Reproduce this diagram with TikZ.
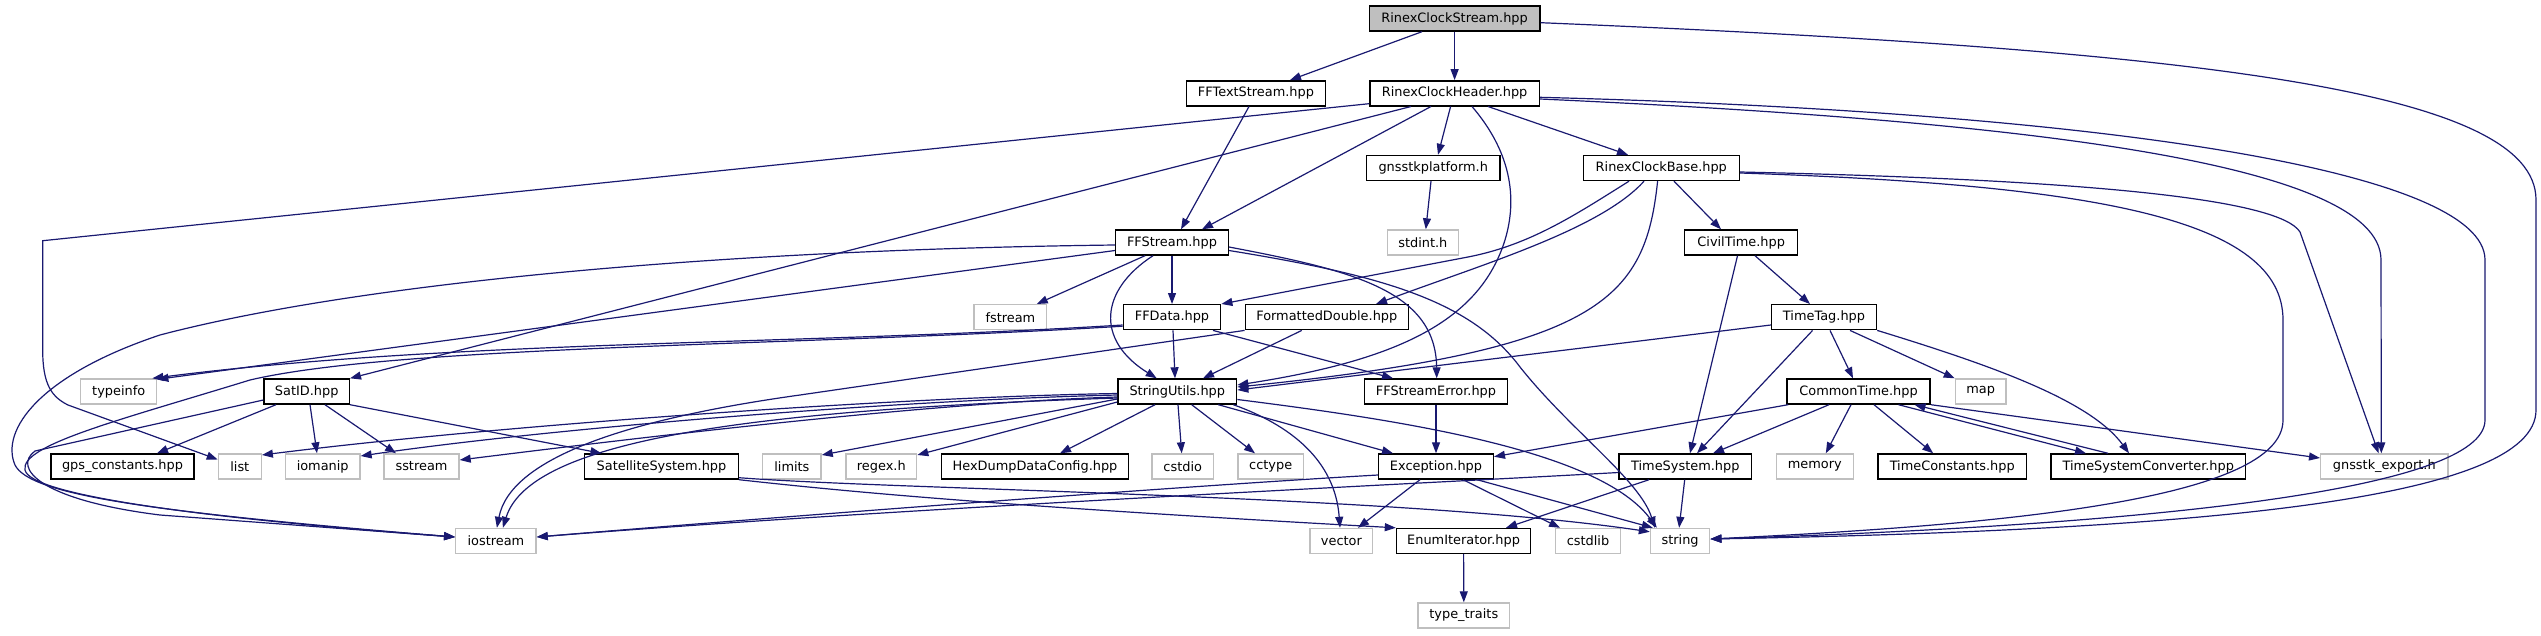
\documentclass[tikz,border=0pt]{standalone}
\usepackage{fontspec}
\setmainfont{DejaVu Sans}
\usetikzlibrary{arrows.meta}
\definecolor{edgeblue}{HTML}{191970}
\definecolor{extgray}{HTML}{BFBFBF}
\begin{document}
\begin{tikzpicture}[x=1pt,y=-1pt,
  box/.style={rectangle, minimum height=25pt, inner sep=0pt, font=\fontsize{12.9}{14}\selectfont, line width=1.4pt},
  doc/.style={box, draw=black, fill=white},
  ext/.style={box, draw=extgray, fill=white},
  root/.style={box, draw=black, fill=extgray},
  edge/.style={draw=edgeblue, line width=1.2pt, -{Triangle[length=11pt,width=8pt]}}]
\useasboundingbox (0,0) rectangle (2541,635);
% row 1
\node[root, minimum width=170.8pt] (rcs) at (1454.6,18.5) {RinexClockStream.hpp};
% row 2
\node[doc, minimum width=138.7pt] (fft) at (1256,93.3) {FFTextStream.hpp};
\node[doc, minimum width=169.6pt] (rch) at (1454.6,93.3) {RinexClockHeader.hpp};
% row 3
\node[doc, minimum width=133.4pt] (gpl) at (1433.2,168) {gnsstkplatform.h};
\node[doc, minimum width=156pt] (rcb) at (1661.3,168) {RinexClockBase.hpp};
% row 4
\node[doc, minimum width=112.6pt] (ffs) at (1172,242.5) {FFStream.hpp};
\node[ext, minimum width=71pt] (stdint) at (1422.8,242.5) {stdint.h};
\node[doc, minimum width=113pt] (civ) at (1741.2,242.5) {CivilTime.hpp};
% row 5
\node[ext, minimum width=72.6pt] (fstream) at (1010.4,317.2) {fstream};
\node[doc, minimum width=97.4pt] (ffd) at (1172,317.2) {FFData.hpp};
\node[doc, minimum width=163pt] (fmd) at (1326.8,317.2) {FormattedDouble.hpp};
\node[doc, minimum width=105pt] (ttag) at (1824,317.2) {TimeTag.hpp};
% row 6
\node[ext, minimum width=76pt] (typeinfo) at (118.7,391.5) {typeinfo};
\node[doc, minimum width=85.3pt] (satid) at (306.7,391.5) {SatID.hpp};
\node[doc, minimum width=118.7pt] (su) at (1177.3,391.5) {StringUtils.hpp};
\node[doc, minimum width=142.6pt] (ffse) at (1436,391.5) {FFStreamError.hpp};
\node[doc, minimum width=143.3pt] (ct) at (1858.5,391.5) {CommonTime.hpp};
\node[ext, minimum width=50.4pt] (map) at (1980.6,391.5) {map};
% row 7
\node[doc, minimum width=143pt] (gpsc) at (122.5,466.5) {gps\_constants.hpp};
\node[ext, minimum width=42.8pt] (list) at (239.8,466.5) {list};
\node[ext, minimum width=74.5pt] (iomanip) at (322.7,466.5) {iomanip};
\node[ext, minimum width=75pt] (sstream) at (421.5,466.5) {sstream};
\node[doc, minimum width=153.6pt] (satsys) at (661.5,466.5) {SatelliteSystem.hpp};
\node[ext, minimum width=58.3pt] (limits) at (791.9,466.5) {limits};
\node[ext, minimum width=70.7pt] (regex) at (881.3,466.5) {regex.h};
\node[doc, minimum width=186.7pt] (hex) at (1035,466.5) {HexDumpDataConfig.hpp};
\node[ext, minimum width=61.3pt] (cstdio) at (1182.7,466.5) {cstdio};
\node[ext, minimum width=65.3pt] (cctype) at (1270.7,466.5) {cctype};
\node[doc, minimum width=114.6pt] (exc) at (1436,466.5) {Exception.hpp};
\node[doc, minimum width=132.4pt] (tsys) at (1685.3,466.5) {TimeSystem.hpp};
\node[ext, minimum width=77.2pt] (memory) at (1814.8,466.5) {memory};
\node[doc, minimum width=148.1pt] (tcon) at (1952.2,466.5) {TimeConstants.hpp};
\node[doc, minimum width=194.7pt] (tsc) at (2148.3,466.5) {TimeSystemConverter.hpp};
\node[ext, minimum width=127.2pt] (gexp) at (2384.3,466.5) {gnsstk\_export.h};
% row 8
\node[ext, minimum width=80.3pt] (iostream) at (495.9,541) {iostream};
\node[ext, minimum width=62.7pt] (vector) at (1341.4,541) {vector};
\node[doc, minimum width=134.2pt] (enum) at (1463.6,541) {EnumIterator.hpp};
\node[ext, minimum width=64.5pt] (cstdlib) at (1588,541) {cstdlib};
\node[ext, minimum width=59.2pt] (string) at (1680.1,541) {string};
% row 9
\node[ext, minimum width=91.6pt] (ttraits) at (1463.8,615.5) {type\_traits};

% ---- edges ----
% RinexClockStream
\draw[edge] ([xshift=-32.6pt]rcs.south) -- ([xshift=34pt]fft.north);
\draw[edge] (rcs.south) -- (rch.north);
\draw[edge] ([yshift=-4.2pt]rcs.east) .. controls (2200,50) and (2536,90) .. (2536,200) -- (2536,410) .. controls (2536,500) and (2200,530) .. ([yshift=2pt]string.east);
% RinexClockHeader
\draw[edge] ([yshift=-10.4pt]rch.west) -- (42.7,240.7) -- (42.7,350) .. controls (42.7,385) and (52,397) .. (68,405) -- ([yshift=7pt]list.west);
\draw[edge] ([xshift=-43.6pt]rch.south) -- (satid.north east);
\draw[edge] ([xshift=-23.6pt]rch.south) -- ([xshift=30pt]ffs.north);
\draw[edge] ([xshift=-4pt]rch.south) -- ([xshift=4.8pt]gpl.north);
\draw[edge] ([xshift=17.4pt]rch.south) .. controls (1505,145) and (1520,190) .. (1505,240) .. controls (1480,320) and (1400,360) .. ([yshift=6.5pt]su.east);
\draw[edge] ([xshift=33.4pt]rch.south) -- ([xshift=-33.3pt]rcb.north);
\draw[edge] ([yshift=-5.7pt]rch.east) .. controls (2000,120) and (2381,160) .. (2381,260) -- ([xshift=-3pt]gexp.north);
\draw[edge] ([yshift=-4pt]rch.east) .. controls (2100,112) and (2485,170) .. (2485,260) -- (2485,420) .. controls (2485,490) and (2150,525) .. ([yshift=2pt]string.east);
% FFTextStream, gnsstkplatform
\draw[edge] ([xshift=-7pt]fft.south) -- ([xshift=9pt]ffs.north);
\draw[edge] ([xshift=-2.2pt]gpl.south) -- ([xshift=3pt]stdint.north);
% RinexClockBase
\draw[edge] ([xshift=-32.3pt]rcb.south) .. controls (1575,215) and (1530,245) .. (1468,257) -- (ffd.north east);
\draw[edge] ([xshift=-17.3pt]rcb.south) .. controls (1600,230) and (1480,265) .. ([xshift=49.2pt]fmd.north);
\draw[edge] ([xshift=-3.7pt]rcb.south) .. controls (1645,300) and (1600,350) .. ([yshift=4.5pt]su.east);
\draw[edge] ([xshift=12.7pt]rcb.south) -- ([xshift=-20.2pt]civ.north);
\draw[edge] ([yshift=-4pt]rcb.east) .. controls (2100,180) and (2280,200) .. (2300,232) -- ([xshift=-5.7pt]gexp.north);
\draw[edge] ([yshift=-5pt]rcb.east) .. controls (2100,185) and (2283,220) .. (2283,320) -- (2283,420) .. controls (2283,500) and (2000,525) .. ([yshift=2pt]string.east);
% CivilTime
\draw[edge] ([xshift=13.8pt]civ.south) -- ([xshift=-14pt]ttag.north);
\draw[edge] ([xshift=-3.7pt]civ.south) -- ([xshift=4.7pt]tsys.north);
% TimeTag
\draw[edge] ([yshift=-7.8pt]ttag.west) -- ([yshift=1.5pt]su.east);
\draw[edge] ([xshift=-11.4pt]ttag.south) -- ([xshift=11.7pt]tsys.north);
\draw[edge] ([xshift=6pt]ttag.south) -- ([xshift=-5.5pt]ct.north);
\draw[edge] ([xshift=26pt]ttag.south) -- (map.north west);
\draw[edge] (ttag.south east) .. controls (1990,365) and (2090,400) .. ([xshift=-19.3pt]tsc.north);
% CommonTime
\draw[edge] ([xshift=2pt]ct.south west) -- ([yshift=9.8pt]exc.east);
\draw[edge] ([xshift=-29.5pt]ct.south) -- ([xshift=27.7pt]tsys.north);
\draw[edge] ([xshift=-7.5pt]ct.south) -- ([xshift=11pt]memory.north);
\draw[edge] ([xshift=15.5pt]ct.south) -- ([xshift=-19pt]tcon.north);
\draw[edge] ([xshift=40pt]ct.south) -- ([xshift=-62.3pt]tsc.north);
\draw[edge] ([xshift=-40.3pt]tsc.north) -- ([xshift=56pt]ct.south);
\draw[edge] (ct.south east) -- ([yshift=8.5pt]gexp.west);
% FFStream
\draw[edge] ([yshift=-8pt]ffs.west) -- ([yshift=-1pt]typeinfo.north east);
\draw[edge] ([yshift=-2.5pt]ffs.west) .. controls (700,250) and (350,285) .. (160,335) .. controls (40,375) and (0,430) .. (15,465) .. controls (30,495) and (150,512) .. ([yshift=4pt]iostream.west);
\draw[edge] ([xshift=-27pt]ffs.south) -- ([xshift=26.3pt]fstream.north);
\draw[edge] (ffs.south) -- (ffd.north);
\draw[edge] ([xshift=-19pt]ffs.south) .. controls (1100,290) and (1095,340) .. ([xshift=-20.6pt]su.north);
\draw[edge] ([yshift=-4.5pt]ffs.east) .. controls (1350,270) and (1436,290) .. ([xshift=0.7pt]ffse.north);
\draw[edge] ([yshift=-8pt]ffs.east) .. controls (1380,275) and (1470,300) .. (1520,367) .. controls (1570,430) and (1640,480) .. ([xshift=5pt]string.north west);
% FFData
\draw[edge] ([yshift=-7.8pt]ffd.west) .. controls (800,345) and (450,340) .. ([xshift=-5pt]typeinfo.north east);
\draw[edge] ([yshift=-9pt]ffd.west) .. controls (800,346) and (400,345) .. (250,380) .. controls (120,420) and (20,445) .. (25,470) .. controls (30,495) and (200,518) .. ([yshift=4pt]iostream.west);
\draw[edge] ([xshift=1pt]ffd.south) -- ([xshift=-2.3pt]su.north);
\draw[edge] ([xshift=41pt]ffd.south) -- ([xshift=-43pt]ffse.north);
% FormattedDouble
\draw[edge] ([xshift=-25pt]fmd.south) -- ([xshift=25.7pt]su.north);
\draw[edge] (fmd.south west) -- (800,395) .. controls (620,420) and (510,460) .. ([xshift=1pt]iostream.north);
% SatID
\draw[edge] ([yshift=-8.5pt]satid.west) -- (35,451) .. controls (12,468) and (40,500) .. (160,515) -- ([yshift=4pt]iostream.west);
\draw[edge] ([xshift=-30.7pt]satid.south) -- ([xshift=34.5pt]gpsc.north);
\draw[edge] ([xshift=3.3pt]satid.south) -- ([xshift=-5.7pt]iomanip.north);
\draw[edge] ([xshift=18.3pt]satid.south) -- ([xshift=-25.5pt]sstream.north);
\draw[edge] (satid.south east) -- ([xshift=-60pt]satsys.north);
% StringUtils
\draw[edge] ([yshift=-2pt]su.west) .. controls (900,397) and (500,425) .. ([yshift=11.5pt]list.east);
\draw[edge] ([yshift=-3.5pt]su.west) .. controls (900,400) and (550,428) .. ([yshift=10.5pt]iomanip.east);
\draw[edge] ([yshift=-5.5pt]su.west) .. controls (950,402) and (700,430) .. ([yshift=6.5pt]sstream.east);
\draw[edge] ([yshift=-6.5pt]su.west) .. controls (750,410) and (530,440) .. ([xshift=7pt]iostream.north);
\draw[edge] ([yshift=-7.5pt]su.west) -- ([yshift=11.5pt]limits.east);
\draw[edge] ([yshift=-10.5pt]su.west) -- ([yshift=11.5pt]regex.east);
\draw[edge] ([xshift=-22.3pt]su.south) -- ([xshift=25pt]hex.north);
\draw[edge] ([xshift=0.7pt]su.south) -- ([xshift=-1pt]cstdio.north);
\draw[edge] ([xshift=14.4pt]su.south) -- ([xshift=-15.7pt]cctype.north);
\draw[edge] ([xshift=41pt]su.south) -- ([xshift=-43pt]exc.north);
\draw[edge] ([xshift=-4pt]su.south east) .. controls (1290,425) and (1335,460) .. ([xshift=-1.4pt]vector.north);
\draw[edge] ([yshift=-8pt]su.east) .. controls (1400,420) and (1600,450) .. ([xshift=7pt]string.north west);
% FFStreamError
\draw[edge] (ffse.south) -- (exc.north);
% Exception
\draw[edge] ([yshift=-8.5pt]exc.west) .. controls (1200,485) and (800,515) .. ([yshift=4pt]iostream.east);
\draw[edge] ([xshift=-16pt]exc.south) -- ([xshift=16.6pt]vector.north);
\draw[edge] ([xshift=27pt]exc.south) -- ([xshift=-28pt]cstdlib.north);
\draw[edge] ([xshift=41pt]exc.south) -- ([xshift=3pt]string.north west);
% TimeSystem
\draw[edge] ([yshift=-6pt]tsys.west) .. controls (1450,482) and (900,508) .. ([yshift=4pt]iostream.east);
\draw[edge] ([xshift=-36.3pt]tsys.south) -- ([xshift=42.4pt]enum.north);
\draw[edge] ([xshift=-0.6pt]tsys.south) -- ([xshift=-1pt]string.north);
% SatelliteSystem
\draw[edge] (satsys.south east) .. controls (850,492) and (1000,506) .. (enum.north west);
\draw[edge] ([yshift=2pt]satsys.south east) .. controls (900,490) and (1400,495) .. ([yshift=-4pt]string.north west);
% EnumIterator
\draw[edge] (enum.south) -- (ttraits.north);
\end{tikzpicture}
\end{document}
